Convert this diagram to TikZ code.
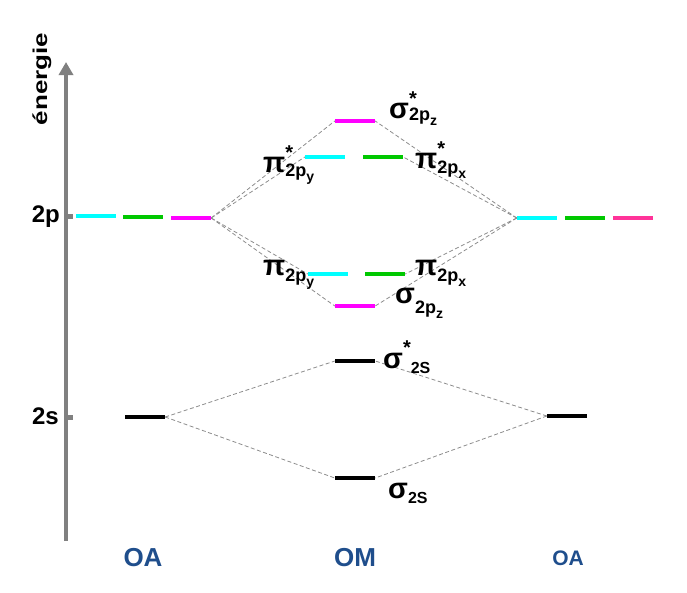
\documentclass[tikz,border=0pt]{standalone}
\usepackage{fontspec}
\setmainfont{Liberation Sans}
\usetikzlibrary{arrows.meta}
\definecolor{oablue}{RGB}{31,78,140}
\definecolor{axgray}{RGB}{128,128,128}
\definecolor{dashgray}{RGB}{140,140,140}
\definecolor{lcyan}{RGB}{0,255,255}
\definecolor{lgreen}{RGB}{0,200,0}
\definecolor{lmag}{RGB}{255,0,255}
\definecolor{lpink}{RGB}{255,51,153}
\newcommand\Gk[1]{{\fontsize{29}{29}\selectfont #1}}
\newcommand\St{\makebox[0pt][l]{\raisebox{13pt}{\fontsize{20}{20}\selectfont *}}}
\newcommand\StW{\raisebox{14pt}{\fontsize{20}{20}\selectfont *}}
\newcommand\Sb[3]{\raisebox{-#1}{\fontsize{18}{18}\selectfont #2\raisebox{-5pt}{\fontsize{14}{14}\selectfont #3}}}
\newcommand\Sbs[2]{\raisebox{-#1}{\fontsize{16}{16}\selectfont #2}}
\begin{document}
\begin{tikzpicture}[x=1pt,y=-1pt,
  lvl/.style={rectangle, inner sep=0pt, minimum width=40pt, minimum height=4pt, draw=none},
  conn/.style={draw=dashgray, line width=0.8pt, dash pattern=on 4pt off 2.5pt},
  lab/.style={anchor=base west, inner sep=0pt, font=\bfseries},
  oalab/.style={anchor=base, inner sep=0pt, text=oablue},
  axlab/.style={anchor=base east, inner sep=0pt, font=\bfseries\fontsize{24}{24}\selectfont}]
\useasboundingbox (0,0) rectangle (687,592);
% axis
\coordinate (axb) at (66,541);
\coordinate (axt) at (66,62);
\draw[axgray, line width=4pt, -{Triangle[width=14pt,length=13pt]}] (axb) -- (axt);
\coordinate (t1a) at (66,216); \coordinate (t1b) at (73,216);
\coordinate (t2a) at (66,417); \coordinate (t2b) at (73,417);
\draw[axgray, line width=5pt] (t1a) -- (t1b);
\draw[axgray, line width=5pt] (t2a) -- (t2b);
\node[rotate=90, inner sep=0pt, font=\bfseries] (en) at (42,79) {\scalebox{1.3}[1]{\fontsize{20}{20}\selectfont énergie}};
\node[axlab] (l2p) at (60,222) {2p};
\node[axlab] (l2s) at (59,424) {2s};
% atomic levels
\node[lvl, fill=lcyan] (L1) at (96,216) {};
\node[lvl, fill=lgreen] (L2) at (143,217) {};
\node[lvl, fill=lmag] (L3) at (191,218) {};
\node[lvl, fill=lcyan] (R1) at (537,218) {};
\node[lvl, fill=lgreen] (R2) at (585,218) {};
\node[lvl, fill=lpink] (R3) at (633,218) {};
\node[lvl, fill=black] (L2s) at (145,417) {};
\node[lvl, fill=black] (R2s) at (567,416) {};
% molecular levels
\node[lvl, fill=lmag] (Sst) at (355,121) {};
\node[lvl, fill=lcyan] (Psy) at (325,157) {};
\node[lvl, fill=lgreen] (Psx) at (383,157) {};
\node[lvl, fill=lcyan] (Py) at (328,274) {};
\node[lvl, fill=lgreen] (Px) at (385,274) {};
\node[lvl, fill=lmag] (S) at (355,306) {};
\node[lvl, fill=black] (S2st) at (355,361) {};
\node[lvl, fill=black] (S2) at (355,478) {};
% connectors
\draw[conn] (L3.east) -- (Sst.west);
\draw[conn] (L3.east) -- (Psy.west);
\draw[conn] (L3.east) -- (Py.west);
\draw[conn] (L3.east) -- (S.west);
\draw[conn] (R1.west) -- (Sst.east);
\draw[conn] (R1.west) -- (Psx.east);
\draw[conn] (R1.west) -- (Px.east);
\draw[conn] (R1.west) -- (S.east);
\draw[conn] (L2s.east) -- (S2st.west);
\draw[conn] (L2s.east) -- (S2.west);
\draw[conn] (R2s.west) -- (S2st.east);
\draw[conn] (R2s.west) -- (S2.east);
% labels
\node[lab] (tSst) at (389,118) {\Gk{σ}\St\Sb{2pt}{2p}{z}};
\node[lab] (tPsy) at (263,172) {\Gk{π}\St\Sb{4pt}{2p}{y}};
\node[lab] (tPsx) at (415,168) {\Gk{π}\St\Sb{5pt}{2p}{x}};
\node[lab] (tPy) at (263,275) {\Gk{π}\Sb{6.5pt}{2p}{y}};
\node[lab] (tPx) at (415,275) {\Gk{π}\Sb{6.5pt}{2p}{x}};
\node[lab] (tS) at (395,303) {\Gk{σ}\Sb{10pt}{2p}{z}};
\node[lab] (tS2st) at (383,368) {\Gk{σ}\StW\Sbs{5pt}{2S}};
\node[lab] (tS2) at (388,498) {\Gk{σ}\Sbs{5pt}{2S}};
% bottom labels
\node[oalab, font=\bfseries\fontsize{26}{26}\selectfont] (oa1) at (143,566) {OA};
\node[oalab, font=\bfseries\fontsize{26}{26}\selectfont] (om) at (355,566) {OM};
\node[oalab, font=\bfseries\fontsize{21}{21}\selectfont] (oa2) at (568,565) {OA};
\end{tikzpicture}
\end{document}
